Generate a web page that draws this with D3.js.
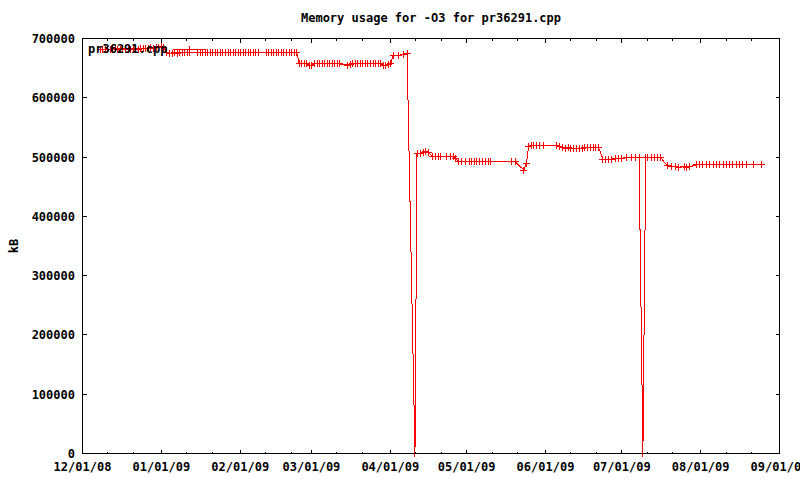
<!DOCTYPE html>
<html><head><meta charset="utf-8">
<script src="https://cdn.jsdelivr.net/npm/d3@7"></script>
<style>
body{margin:0;background:#fff}
svg{display:block;background:#fff}
text{font-family:"DejaVu Sans Mono","Liberation Mono",monospace;font-weight:bold;font-size:12px;fill:#000}
</style>
</head><body>
<svg id="chart" width="800" height="480"></svg>
<script>
const chartTitle = "Memory usage for -O3 for pr36291.cpp";
const seriesName = "pr36291.cpp";
const yAxisLabel = "kB";
const startDate = "2008-12-01";
const endDate = "2009-09-01";
const yTickValues = [0, 100000, 200000, 300000, 400000, 500000, 600000, 700000];

// days after 2008-12-01
const dayOffsets = [
  6.9, 7.9, 8.9, 9.9, 10.9, 11.9, 12.9, 13.9, 14.9, 15.9, 16.9, 17.9, 18.9, 19.9, 20.9, 21.9, 22.9, 23.9, 24.9, 25.9, 26.9, 27.9, 28.9, 29.9, 30.9, 31.9,
  33.2, 34.2, 35.2, 36.2, 37.2, 38.2, 39.2, 40.2, 41.2, 42.2, 45.2, 46.2, 47.2, 48.2, 49.2, 50.2, 51.2, 52.2, 53.2, 54.2, 55.2, 56.2, 57.2, 58.2, 59.2, 60.2, 61.2, 62.2, 63.2, 64.2, 65.2, 66.2, 67.2, 68.2, 69.2,
  72.2, 73.2, 74.2, 75.2, 76.2, 77.2, 78.2, 79.2, 80.2, 81.2, 82.2, 83.2, 84.2,
  85.2, 86.2, 87.2, 88.2, 89.2, 90.2, 91.2, 92.2, 93.2, 94.2, 95.2, 96.2, 97.2, 98.2, 99.2, 100.2, 101.2, 104.2, 105.2, 106.2, 107.2, 108.2, 109.2, 110.2, 111.2, 112.2, 113.2, 114.2, 115.2, 116.2, 117.2, 118.2, 119.2, 120.2, 121.2,
  122.1, 124.4, 126.1, 127.6, 130.7, 131.5, 132.9, 133.9, 134.9, 135.9,
  137.7, 138.8, 139.8, 140.7, 143.2, 144.8, 145.9, 146.8,
  147.7, 149.0, 150.7, 152.0, 153.0, 154.0, 155.0, 156.0, 157.2, 158.5, 159.7, 160.5, 168.6, 170.2, 173.5, 174.5,
  175.4, 176.4, 177.4, 178.5, 179.8, 181.3,
  186.3, 187.6, 188.7, 189.9, 190.9, 191.9, 193.1, 194.2, 195.5, 196.5, 197.4, 198.5, 199.7, 200.7, 201.8, 202.9,
  204.6, 205.7, 206.9, 207.9, 209.6, 210.9, 211.9, 213.8, 215.7, 217.2, 218.8, 220.3, 221.4, 222.3, 223.6, 224.9, 226.2, 227.3,
  229.9, 231.5, 233.2, 234.1, 236.8, 237.6, 238.7,
  241.3, 242.6, 243.9, 245.3, 246.6, 247.9, 249.2, 250.5, 251.8, 253.1, 254.4, 255.7, 257.1, 258.4, 259.6, 261.0, 263.6, 266.9
];

const memoryKB = [
  681000, 682000, 682000, 682000, 682000, 682000, 683000, 682000, 682000, 683000, 682000, 682000, 682000, 683000, 682000, 682000, 683000, 683000, 683000, 683000, 684000, 683000, 684000, 685000, 686000, 685000,
  677000, 675000, 675000, 676000, 675000, 676000, 676000, 676000, 677000, 677000, 677000, 677000, 677000, 677000, 677000, 677000, 677000, 677000, 677000, 677000, 677000, 677000, 677000, 677000, 677000, 677000, 677000, 677000, 677000, 677000, 677000, 677000, 677000, 677000, 677000,
  677000, 677000, 677000, 677000, 677000, 677000, 677000, 677000, 677000, 677000, 677000, 677000, 677000,
  657000, 657000, 657000, 657000, 655000, 655000, 657000, 657000, 657000, 657000, 657000, 657000, 657000, 657000, 657000, 657000, 657000, 655000, 656000, 657000, 657000, 657000, 657000, 657000, 657000, 657000, 657000, 657000, 657000, 657000, 657000, 655000, 655000, 656000, 657000,
  672000, 672000, 673000, 675000, 0, 506000, 506000, 507000, 509000, 508000,
  501000, 501000, 501000, 501000, 501000, 501000, 501000, 497000,
  492000, 492000, 492000, 492000, 492000, 492000, 492000, 492000, 492000, 492000, 492000, 492000, 492000, 492000, 478000, 489000,
  518000, 519000, 519000, 520000, 520000, 520000,
  519000, 517000, 516000, 515000, 516000, 515000, 515000, 514000, 515000, 515000, 516000, 516000, 516000, 516000, 516000, 516000,
  496000, 496000, 496000, 496000, 497000, 498000, 498000, 499000, 499000, 499000, 500000, 0, 499000, 499000, 499000, 499000, 499000, 499000,
  485000, 484000, 484000, 483000, 484000, 483000, 484000,
  487000, 487000, 487000, 487000, 487000, 487000, 487000, 487000, 487000, 487000, 487000, 487000, 487000, 487000, 487000, 487000, 487000, 487000
];

(function () {
const svg = d3.select("#chart");
const pLeft = 82.5, pRight = 779.5, pTop = 38.5, pBottom = 453.5;
const color = "#ff0000";

const parse = d3.utcParse("%Y-%m-%d");
const t0 = parse(startDate), t1 = parse(endDate);
const x = d3.scaleUtc().domain([t0, t1]).range([pLeft, pRight]);
const y = d3.scaleLinear().domain([0, 700000]).range([pBottom, pTop]);

const data = dayOffsets.map((d, i) => ({date: new Date(t0.getTime() + d * 864e5), v: memoryKB[i]}));

// data line
const line = d3.line().x(d => x(d.date)).y(d => y(d.v));
svg.append("path").datum(data).attr("d", line)
  .attr("fill", "none").attr("stroke", color).attr("stroke-width", 1)
  .attr("shape-rendering", "crispEdges");

function plus(cx, cy) {
  const px = Math.round(cx - 0.5) + 0.5, py = Math.round(cy - 0.5) + 0.5;
  return `M${px - 3.5},${py}H${px + 3.5}M${px},${py - 3.5}V${py + 3.5}`;
}
svg.append("path")
  .attr("d", data.map(d => plus(x(d.date), y(d.v))).join(""))
  .attr("fill", "none").attr("stroke", color).attr("stroke-width", 1)
  .attr("shape-rendering", "crispEdges");

// key
svg.append("text").attr("x", 88).attr("y", 53).text(seriesName);
svg.append("path").attr("d", `M173,49.5H205`).attr("stroke", color).attr("shape-rendering", "crispEdges");
svg.append("path").attr("d", plus(189, 49.5)).attr("stroke", color).attr("fill", "none").attr("shape-rendering", "crispEdges");

// axes
const months = d3.utcMonth.range(t0, d3.utcDay.offset(t1, 1));
const minor = [];
d3.utcMonth.range(t0, t1).forEach(m => { minor.push(d3.utcDay.offset(m, 10)); minor.push(d3.utcDay.offset(m, 20)); });
const fmt = d3.utcFormat("%m/%d/%y");

const ax = svg.append("g").attr("shape-rendering", "crispEdges");
function tickLines(vals, len) {
  vals.forEach(v => {
    const px = Math.round(x(v) - 0.5) + 0.5;
    ax.append("path").attr("d", `M${px},${pBottom}V${pBottom - len}M${px},${pTop}V${pTop + len}`).attr("stroke", "#000");
  });
}
tickLines(months, 4);
tickLines(minor, 2);

ax.selectAll("text.xl").data(months).join("text").attr("class", "xl")
  .attr("x", d => x(d)).attr("y", 471).attr("text-anchor", "middle").text(d => fmt(d));

yTickValues.forEach(v => {
  const py = Math.round(y(v) - 0.5) + 0.5;
  ax.append("path").attr("d", `M${pLeft},${py}H${pLeft + 4}M${pRight},${py}H${pRight - 4}`).attr("stroke", "#000");
});
ax.selectAll("text.yl").data(yTickValues).join("text").attr("class", "yl")
  .attr("x", 75).attr("y", d => y(d) + 4.5).attr("text-anchor", "end").text(d => d3.format("d")(d));

ax.append("rect").attr("x", pLeft).attr("y", pTop).attr("width", pRight - pLeft).attr("height", pBottom - pTop)
  .attr("fill", "none").attr("stroke", "#000");

svg.append("text").attr("x", (pLeft + pRight) / 2).attr("y", 22).attr("text-anchor", "middle").text(chartTitle);
svg.append("text").attr("transform", `translate(18,${(pTop + pBottom) / 2}) rotate(-90)`).attr("text-anchor", "middle").text(yAxisLabel);
})();
</script>
</body></html>
